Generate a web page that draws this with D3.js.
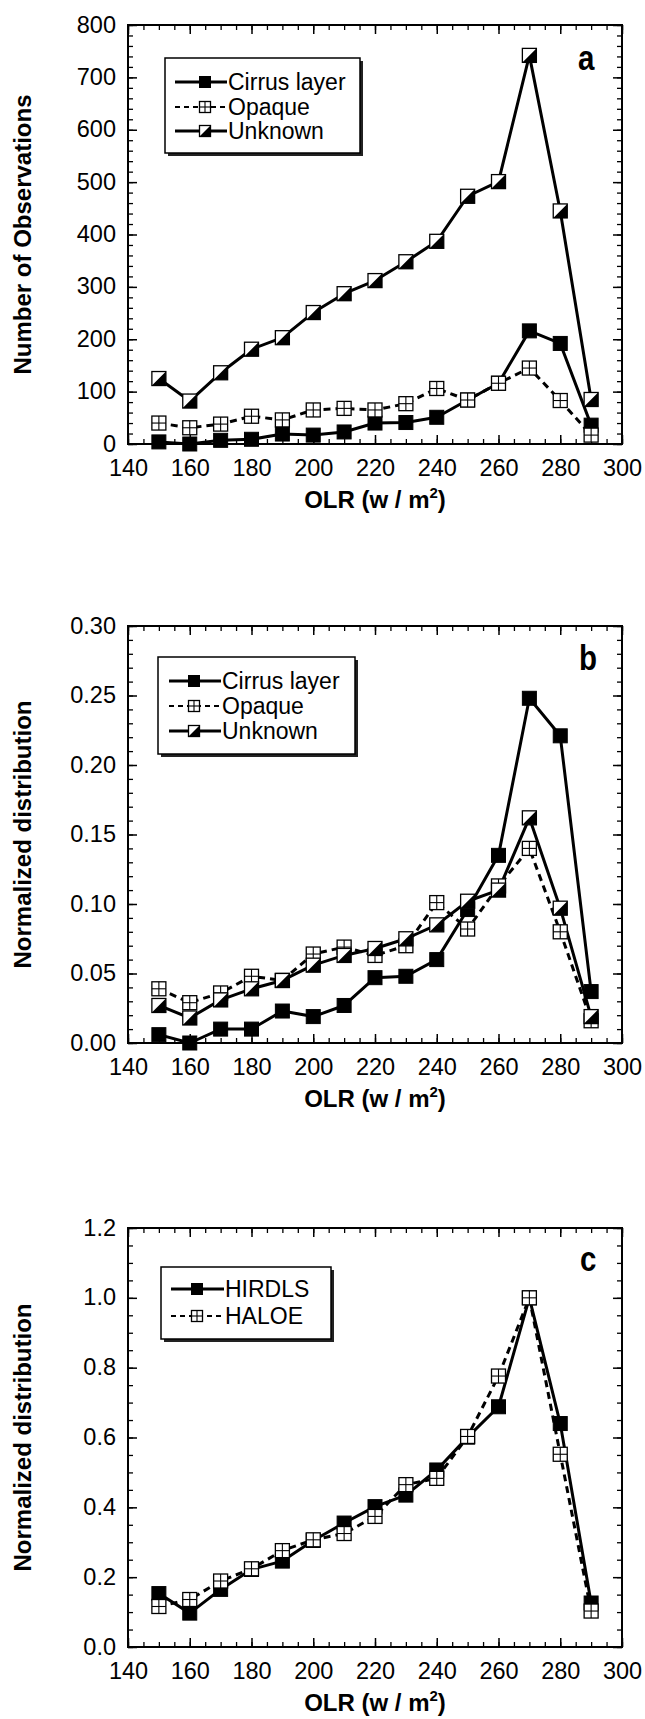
<!DOCTYPE html>
<html><head><meta charset="utf-8">
<script src="https://cdn.jsdelivr.net/npm/d3@7/dist/d3.min.js"></script>
<style>
body{margin:0;background:#fff}
text{font-family:"Liberation Sans",Arial,Helvetica,sans-serif;fill:#000}
</style>
</head><body>
<svg id="chart" width="645" height="1719"></svg>
<script>
// ---------- data ----------
const olr = [150,160,170,180,190,200,210,220,230,240,250,260,270,280,290];
const xTicks = [140,160,180,200,220,240,260,280,300];

// panel a: number of observations
const cirrusA  = [4,0,7,9,19,17,23,40,41,51,84,116,216,192,36];
const opaqueA  = [40,31,38,53,46,65,68,65,77,106,84,116,145,83,17];
const unknownA = [125,82,136,181,203,251,287,312,348,387,473,501,742,445,85];
const yTicksA  = [0,100,200,300,400,500,600,700,800];

// panel b: normalized distribution
const cirrusB  = [0.006,0.000,0.010,0.010,0.023,0.019,0.027,0.047,0.048,0.060,0.096,0.135,0.248,0.221,0.037];
const opaqueB  = [0.039,0.029,0.036,0.048,0.045,0.064,0.069,0.063,0.070,0.101,0.082,0.113,0.140,0.080,0.016];
const unknownB = [0.027,0.018,0.031,0.039,0.045,0.056,0.063,0.068,0.075,0.085,0.102,0.110,0.162,0.097,0.019];
const yTicksB  = [0,0.05,0.10,0.15,0.20,0.25,0.30];

// panel c: normalized distribution HIRDLS vs HALOE
const hirdlsC = [0.153,0.097,0.165,0.222,0.246,0.305,0.355,0.402,0.435,0.507,0.601,0.688,1.0,0.640,0.126];
const haloeC  = [0.116,0.136,0.189,0.224,0.276,0.307,0.325,0.374,0.465,0.483,0.603,0.776,1.0,0.552,0.103];
const yTicksC = [0,0.2,0.4,0.6,0.8,1.0,1.2];

const namesAB = ["Cirrus layer","Opaque","Unknown"];
const namesC  = ["HIRDLS","HALOE"];

// ---------- drawing ----------
const svg = d3.select("#chart");
const L = 128, R = 622;

function marker(g, type, x, y, s){
  const h = s/2;
  if(type==="filled"){
    g.append("rect").attr("x",x-h).attr("y",y-h).attr("width",s).attr("height",s)
      .attr("fill","#000").attr("stroke","#000").attr("stroke-width",1);
  } else if(type==="grid"){
    g.append("rect").attr("x",x-h).attr("y",y-h).attr("width",s).attr("height",s)
      .attr("fill","#fff").attr("stroke","#000").attr("stroke-width",1.3);
    g.append("line").attr("x1",x).attr("x2",x).attr("y1",y-h).attr("y2",y+h).attr("stroke","#000").attr("stroke-width",1.1);
    g.append("line").attr("x1",x-h).attr("x2",x+h).attr("y1",y).attr("y2",y).attr("stroke","#000").attr("stroke-width",1.1);
  } else {
    g.append("rect").attr("x",x-h).attr("y",y-h).attr("width",s).attr("height",s)
      .attr("fill","#fff").attr("stroke","#000").attr("stroke-width",1.3);
    g.append("path").attr("d",`M${x+h},${y-h}L${x+h},${y+h}L${x-h},${y+h}Z`).attr("fill","#000");
  }
}

function panel(cfg){
  const x = d3.scaleLinear().domain([140,300]).range([L,R]);
  const y = d3.scaleLinear().domain(cfg.yDomain).range([cfg.bottom,cfg.top]);
  const g = svg.append("g");

  const xMinor = d3.range(140,300.1,5);
  const yMinor = d3.range(cfg.yDomain[0], cfg.yDomain[1]+cfg.minor/2, cfg.minor);
  const axMinor = [
    [d3.axisBottom(x).tickValues(xMinor), `translate(0,${cfg.bottom})`],
    [d3.axisTop(x).tickValues(xMinor), `translate(0,${cfg.top})`],
    [d3.axisLeft(y).tickValues(yMinor), `translate(${L},0)`],
    [d3.axisRight(y).tickValues(yMinor), `translate(${R},0)`]
  ];
  axMinor.forEach(([ax,tr])=>{
    const a = g.append("g").attr("transform",tr).call(ax.tickSize(-5).tickFormat(""));
    a.select(".domain").remove();
    a.selectAll("line").attr("stroke","#000").attr("stroke-width",1.3);
  });
  const bx = g.append("g").attr("transform",`translate(0,${cfg.bottom})`)
    .call(d3.axisBottom(x).tickValues(xTicks).tickSize(-9).tickPadding(15).tickFormat(d3.format("d")));
  const tx = g.append("g").attr("transform",`translate(0,${cfg.top})`)
    .call(d3.axisTop(x).tickValues(xTicks).tickSize(-9).tickFormat(""));
  const ly = g.append("g").attr("transform",`translate(${L},0)`)
    .call(d3.axisLeft(y).tickValues(cfg.yTicks).tickSize(-9).tickPadding(12).tickFormat(cfg.fmt));
  const ry = g.append("g").attr("transform",`translate(${R},0)`)
    .call(d3.axisRight(y).tickValues(cfg.yTicks).tickSize(-9).tickFormat(""));
  [bx,tx,ly,ry].forEach(a=>{
    a.select(".domain").remove();
    a.selectAll("line").attr("stroke","#000").attr("stroke-width",1.5);
    a.selectAll("text").attr("font-size",23.5).attr("font-family",null).attr("fill","#000");
  });
  ly.selectAll("text").attr("dy","0.3em");
  g.append("rect").attr("x",L).attr("y",cfg.top).attr("width",R-L).attr("height",cfg.bottom-cfg.top)
    .attr("fill","none").attr("stroke","#000").attr("stroke-width",2);

  const line = d3.line().x((d,i)=>x(olr[i])).y(d=>y(d));
  cfg.series.forEach(s=>{
    g.append("path").datum(s.values).attr("d",line).attr("fill","none")
      .attr("stroke","#000").attr("stroke-width",3)
      .attr("stroke-dasharray",s.dashed?"7,5":null).attr("stroke-linejoin","round");
  });
  cfg.series.forEach(s=>{
    const mg = g.append("g");
    s.values.forEach((v,i)=>marker(mg,s.marker,x(olr[i]),y(v),14));
  });

  g.append("text").attr("transform",`translate(31,${(cfg.top+cfg.bottom)/2}) rotate(-90)`)
    .attr("text-anchor","middle").attr("font-size",24).attr("font-weight","bold").text(cfg.yTitle);
  const ot = g.append("text").attr("x",(L+R)/2).attr("y",cfg.bottom+64)
    .attr("text-anchor","middle").attr("font-size",24).attr("font-weight","bold");
  ot.append("tspan").text("OLR (w / m");
  ot.append("tspan").attr("font-size",15).attr("dy",-10).text("2");
  ot.append("tspan").attr("dy",10).text(")");

  g.append("text").attr("transform",`translate(${cfg.letterX},${cfg.letterY}) scale(0.82,1)`)
    .attr("font-size",36).attr("font-weight","bold").text(cfg.letter);

  const lg = cfg.legend;
  g.append("rect").attr("x",lg.x+3).attr("y",lg.y+3).attr("width",lg.w).attr("height",lg.h).attr("fill","#222");
  g.append("rect").attr("x",lg.x).attr("y",lg.y).attr("width",lg.w).attr("height",lg.h)
    .attr("fill","#fff").attr("stroke","#000").attr("stroke-width",1.5);
  cfg.series.forEach((s,i)=>{
    const ry = lg.rows[i];
    g.append("line").attr("x1",lg.lx1).attr("x2",lg.lx2).attr("y1",ry).attr("y2",ry)
      .attr("stroke","#000").attr("stroke-width",s.dashed?2:3).attr("stroke-dasharray",s.dashed?"5,4":null);
    marker(g,s.marker,lg.mx,ry,11);
    g.append("text").attr("x",lg.tx).attr("y",ry).attr("dy","0.36em").attr("font-size",23).text(s.name);
  });
}

panel({
  top:25, bottom:444, yDomain:[0,800], yTicks:yTicksA, minor:20, fmt:d3.format("d"),
  yTitle:"Number of Observations", letter:"a", letterX:578, letterY:70,
  series:[
    {name:namesAB[0], values:cirrusA, marker:"filled", dashed:false},
    {name:namesAB[1], values:opaqueA, marker:"grid", dashed:true},
    {name:namesAB[2], values:unknownA, marker:"half", dashed:false}
  ],
  legend:{x:165,y:58,w:195,h:95,rows:[82,107,131],lx1:175,lx2:227,mx:205,tx:228}
});
panel({
  top:626, bottom:1043, yDomain:[0,0.30], yTicks:yTicksB, minor:0.01, fmt:d3.format(".2f"),
  yTitle:"Normalized distribution", letter:"b", letterX:579, letterY:670,
  series:[
    {name:namesAB[0], values:cirrusB, marker:"filled", dashed:false},
    {name:namesAB[1], values:opaqueB, marker:"grid", dashed:true},
    {name:namesAB[2], values:unknownB, marker:"half", dashed:false}
  ],
  legend:{x:158,y:657,w:197,h:97,rows:[681,706,731],lx1:169,lx2:221,mx:194,tx:222}
});
panel({
  top:1228, bottom:1647, yDomain:[0,1.2], yTicks:yTicksC, minor:0.05, fmt:d3.format(".1f"),
  yTitle:"Normalized distribution", letter:"c", letterX:580, letterY:1271,
  series:[
    {name:namesC[0], values:hirdlsC, marker:"filled", dashed:false},
    {name:namesC[1], values:haloeC, marker:"grid", dashed:true}
  ],
  legend:{x:161,y:1267,w:170,h:72,rows:[1289,1316],lx1:171,lx2:224,mx:197,tx:225}
});
</script>
</body></html>
